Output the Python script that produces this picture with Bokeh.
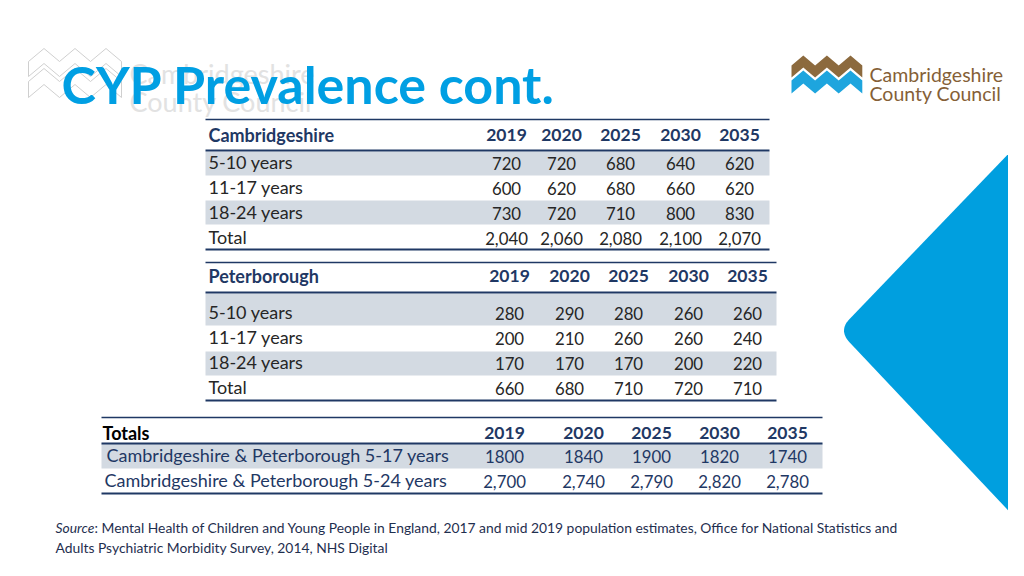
import numpy as np
from bokeh.plotting import figure
from bokeh.models import Range1d, ColumnDataSource
from bokeh.core.properties import value
from bokeh.embed import file_html
from bokeh.resources import INLINE

# ---------------- data ----------------
years = ["2019", "2020", "2025", "2030", "2035"]
age_groups = ["5-10 years", "11-17 years", "18-24 years", "Total"]

cambs_5_10 = [720, 720, 680, 640, 620]
cambs_11_17 = [600, 620, 680, 660, 620]
cambs_18_24 = [730, 720, 710, 800, 830]
cambs_total = [2040, 2060, 2080, 2100, 2070]

pboro_5_10 = [280, 290, 280, 260, 260]
pboro_11_17 = [200, 210, 260, 260, 240]
pboro_18_24 = [170, 170, 170, 200, 220]
pboro_total = [660, 680, 710, 720, 710]

totals_labels = ["Cambridgeshire & Peterborough 5-17 years",
                 "Cambridgeshire & Peterborough  5-24 years"]
totals_5_17 = [1800, 1840, 1900, 1820, 1740]
totals_5_24 = [2700, 2740, 2790, 2820, 2780]

title = "CYP Prevalence cont."
source_lines = ["Mental Health of Children and Young People in England, 2017 and mid 2019 population estimates, Office for National Statistics and",
                "Adults Psychiatric Morbidity Survey, 2014, NHS Digital"]

# ---------------- style ----------------
FONT = "Lato"
NAVY = "#1F3864"
BODY = "#262626"
SHADE = "#D3DAE2"
TITLE_BLUE = "#009FE3"
DIAMOND = "#009FDF"
BROWN = "#8C6A3E"
BROWN_TXT = "#855F37"
LOGO_BLUE = "#1EA5DE"
GHOST = "#C9C9C9"
LABEL_SIZE = 18
NUM_SIZE = 16.8
HEAD_SIZE = 18
YEAR_SIZE = 17.5

p = figure(width=1008, height=560, x_range=Range1d(0, 1008), y_range=Range1d(560, 0),
           output_backend="svg", toolbar_location=None, x_axis_type=None, y_axis_type=None,
           min_border=0)
p.outline_line_color = None
p.background_fill_color = "white"
p.border_fill_color = "white"
for g in p.grid:
    g.visible = False


def txt(xs, ys, texts, size, color, align="left", baseline="middle", style="normal"):
    p.text(x=xs, y=ys, text=texts, text_font=value(FONT), text_font_size=f"{size}px",
           text_color=color, text_align=align, text_baseline=baseline, text_font_style=style)


# ---------------- decorations ----------------
# blue diamond at right with rounded left tip
vx, vy, d = 838.0, 330.0, 16.0
u_top = np.array([1.0, -1.04]) / np.hypot(1.0, 1.04)
u_bot = np.array([1.0, 1.06]) / np.hypot(1.0, 1.06)
P0 = np.array([vx, vy]) + d * u_top
P2 = np.array([vx, vy]) + d * u_bot
t = np.linspace(0, 1, 20)[:, None]
curve = (1 - t) ** 2 * P0 + 2 * (1 - t) * t * np.array([vx, vy]) + t ** 2 * P2
far = 260.0
top_pt = np.array([vx, vy]) + far * u_top
bot_pt = np.array([vx, vy]) + far * u_bot
dx = list([top_pt[0]]) + list(curve[:, 0]) + [bot_pt[0], 1100, 1100]
dy = list([top_pt[1]]) + list(curve[:, 1]) + [bot_pt[1], bot_pt[1], top_pt[1]]
p.patch(dx, dy, fill_color=DIAMOND, line_color=None)


def zig(x0, step, y0, amp):
    xs = [x0 + k * step for k in range(7)]
    ys = [y0 - amp * (k % 2) for k in range(7)]
    return xs, ys


# ghost logo at top left (outlined)
gx, gys = zig(28, 15.5, 61, 13)
for off, thick in [(0, 15), (20, 16)]:
    top = [y + off for y in gys]
    bot = [y + off + thick for y in gys]
    p.patch(gx + gx[::-1], top + bot[::-1], fill_color=None, line_color=GHOST, line_width=0.9)
txt([129], [73], ["Cambridgeshire"], 27, "#E2E2E2", baseline="alphabetic")
txt([129], [101], ["County Council"], 27, "#E2E2E2", baseline="alphabetic")

# real logo at top right
lx, lys = zig(791, 11.8, 65, 10)
p.patch(lx + lx[::-1], lys + [y + 12 for y in lys][::-1], fill_color=BROWN, line_color=None)
p.patch(lx + lx[::-1], [y + 15 for y in lys] + [y + 28 for y in lys][::-1],
        fill_color=LOGO_BLUE, line_color=None)
txt([869], [74], ["Cambridgeshire"], 19.5, BROWN_TXT, baseline="alphabetic")
txt([869], [93], ["County Council"], 19.5, BROWN_TXT, baseline="alphabetic")

# title
txt([61], [83], [title], 52, TITLE_BLUE, baseline="alphabetic", style="bold")


# ---------------- tables ----------------
def table(name, name_color, cols, header_y, rows_y, rows_vals, shade_bands, lines, x0, x1,
          labels, label_x, label_color, fmt):
    # shading
    p.quad(left=[x0] * len(shade_bands), right=[x1] * len(shade_bands),
           top=[b[0] for b in shade_bands], bottom=[b[1] for b in shade_bands],
           fill_color=SHADE, line_color=None)
    # rules
    for (yy, w) in lines:
        p.line([x0, x1], [yy, yy], line_color=NAVY, line_width=w)
    # header
    txt([label_x[0]], [header_y], [name], HEAD_SIZE, name_color, style="bold")
    txt(cols, [header_y] * len(cols), years, YEAR_SIZE, NAVY, align="center", style="bold")
    # rows
    for i, (lab, vals) in enumerate(zip(labels, rows_vals)):
        txt([label_x[1 + i]], [rows_y[i] - 1.5], [lab], LABEL_SIZE, label_color)
        src = ColumnDataSource(dict(x=cols, y=[rows_y[i]] * len(cols),
                                    t=[fmt[i](v) for v in vals]))
        p.text(x="x", y="y", text="t", source=src, text_font=value(FONT),
               text_font_size=f"{NUM_SIZE}px", text_color=label_color, text_align="center",
               text_baseline="middle")


comma = lambda v: f"{v:,}"
plain = lambda v: str(v)

table("Cambridgeshire", NAVY, [506, 561, 620, 680, 739], 134, [163, 188, 213, 238],
      [cambs_5_10, cambs_11_17, cambs_18_24, cambs_total],
      [(151, 175), (200, 224)], [(119, 1.5), (150, 1.8), (249, 2)], 205, 769,
      age_groups, [208] * 5, BODY, [comma] * 4)

table("Peterborough", NAVY, [509, 569, 628, 688, 747], 275, [313, 338, 363, 388],
      [pboro_5_10, pboro_11_17, pboro_18_24, pboro_total],
      [(293, 325), (351, 375)], [(262, 1.5), (292, 1.8), (400, 2)], 205, 776,
      age_groups, [208] * 5, BODY, [comma] * 4)

table("Totals", "#000000", [504, 583, 651, 719, 787], 432, [456, 481],
      [totals_5_17, totals_5_24],
      [(443, 468)], [(417, 1.5), (443, 1.8), (493, 2)], 101, 822,
      totals_labels, [102, 106, 104], NAVY, [plain, comma])

# ---------------- source ----------------
SRC_COL = "#1F2F4F"
txt([55], [527], ["Source"], 13.85, SRC_COL, style="italic")
txt([94], [527], [": " + source_lines[0]], 13.85, SRC_COL)
txt([55], [547], [source_lines[1]], 13.85, SRC_COL)

open("out.html", "w").write(file_html(p, INLINE))
